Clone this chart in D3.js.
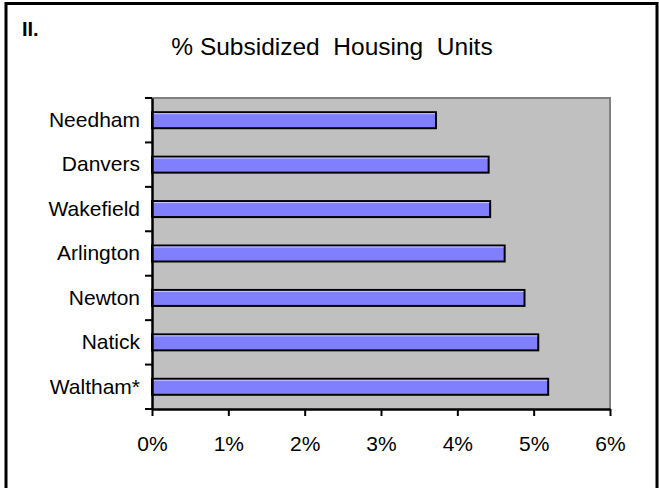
<!DOCTYPE html>
<html>
<head>
<meta charset="utf-8">
<script src="https://cdn.jsdelivr.net/npm/d3@7"></script>
<style>
  html, body { margin: 0; padding: 0; background: #fff; }
  svg { display: block; font-family: "Liberation Sans", Arial, sans-serif; }
</style>
</head>
<body>
<svg id="chart" width="659" height="488"></svg>
<script>
// Towns and their share of subsidized housing units (percent)
const towns = ["Needham", "Danvers", "Wakefield", "Arlington", "Newton", "Natick", "Waltham*"];
const pctSubsidized = [3.72, 4.41, 4.43, 4.62, 4.88, 5.06, 5.19];
const xTicks = [0, 1, 2, 3, 4, 5, 6];
const xTickLabels = ["0%", "1%", "2%", "3%", "4%", "5%", "6%"];

const svg = d3.select("#chart");
const FONT = "'Liberation Sans', Arial, sans-serif";

// outer frame
svg.append("rect")
  .attr("x", 6).attr("y", 3.5).attr("width", 651).attr("height", 500)
  .attr("fill", "none").attr("stroke", "#000").attr("stroke-width", 3);

svg.append("text")
  .attr("x", 22).attr("y", 36)
  .attr("font-size", 20).attr("font-weight", "bold")
  .text("II.");

svg.append("text")
  .attr("x", 332).attr("y", 55)
  .attr("text-anchor", "middle")
  .attr("font-size", 24.5)
  .style("white-space", "pre")
  .text("% Subsidized  Housing  Units");

const plot = { left: 152, right: 610, top: 98, bottom: 409 };

const x = d3.scaleLinear().domain([0, 6]).range([plot.left, plot.right]);
const y = d3.scaleBand().domain(towns).range([plot.top, plot.bottom]).paddingInner(0.64).paddingOuter(0.32);

// plot background
svg.append("rect")
  .attr("x", plot.left).attr("y", plot.top)
  .attr("width", plot.right - plot.left).attr("height", plot.bottom - plot.top)
  .attr("fill", "#c0c0c0");
svg.append("path")
  .attr("d", `M${plot.left},${plot.top}H${plot.right}V${plot.bottom}`)
  .attr("fill", "none").attr("stroke", "#808080").attr("stroke-width", 2);

// bars
const data = towns.map((t, i) => ({ town: t, value: pctSubsidized[i] }));
const bars = svg.append("g");
bars.selectAll("rect.bar").data(data).join("rect")
  .attr("class", "bar")
  .attr("x", x(0)).attr("y", d => y(d.town))
  .attr("width", d => x(d.value) - x(0)).attr("height", y.bandwidth())
  .attr("fill", "#8080ff").attr("stroke", "#000").attr("stroke-width", 2);
bars.selectAll("line.hl").data(data).join("line")
  .attr("class", "hl")
  .attr("x1", x(0) + 1).attr("x2", d => x(d.value) - 1)
  .attr("y1", d => y(d.town) + 1.5).attr("y2", d => y(d.town) + 1.5)
  .attr("stroke", "#c8c8ff").attr("stroke-width", 1);

// x axis
const xAxis = svg.append("g")
  .attr("transform", `translate(0,${plot.bottom})`)
  .call(d3.axisBottom(x).tickValues(xTicks).tickFormat((d, i) => xTickLabels[i]).tickSize(7).tickPadding(20).tickSizeOuter(0));
xAxis.select(".domain").attr("stroke-width", 2.5);
xAxis.selectAll(".tick line").attr("stroke-width", 2);
xAxis.selectAll(".tick text").attr("font-size", 21).attr("fill", "#000").attr("font-family", FONT);

// y axis with ticks between categories
const yAxis = svg.append("g")
  .attr("transform", `translate(${plot.left},0)`)
  .call(d3.axisLeft(y).tickSize(0).tickPadding(12));
yAxis.select(".domain").attr("stroke-width", 2.5);
yAxis.selectAll(".tick text").attr("font-size", 21).attr("fill", "#000").attr("font-family", FONT);
const step = (plot.bottom - plot.top) / towns.length;
const boundaries = d3.range(towns.length + 1).map(i => plot.top + i * step);
yAxis.selectAll("line.sep").data(boundaries).join("line")
  .attr("class", "sep")
  .attr("x1", -7).attr("x2", 0)
  .attr("y1", d => d).attr("y2", d => d)
  .attr("stroke", "#000").attr("stroke-width", 2);
</script>
</body>
</html>
